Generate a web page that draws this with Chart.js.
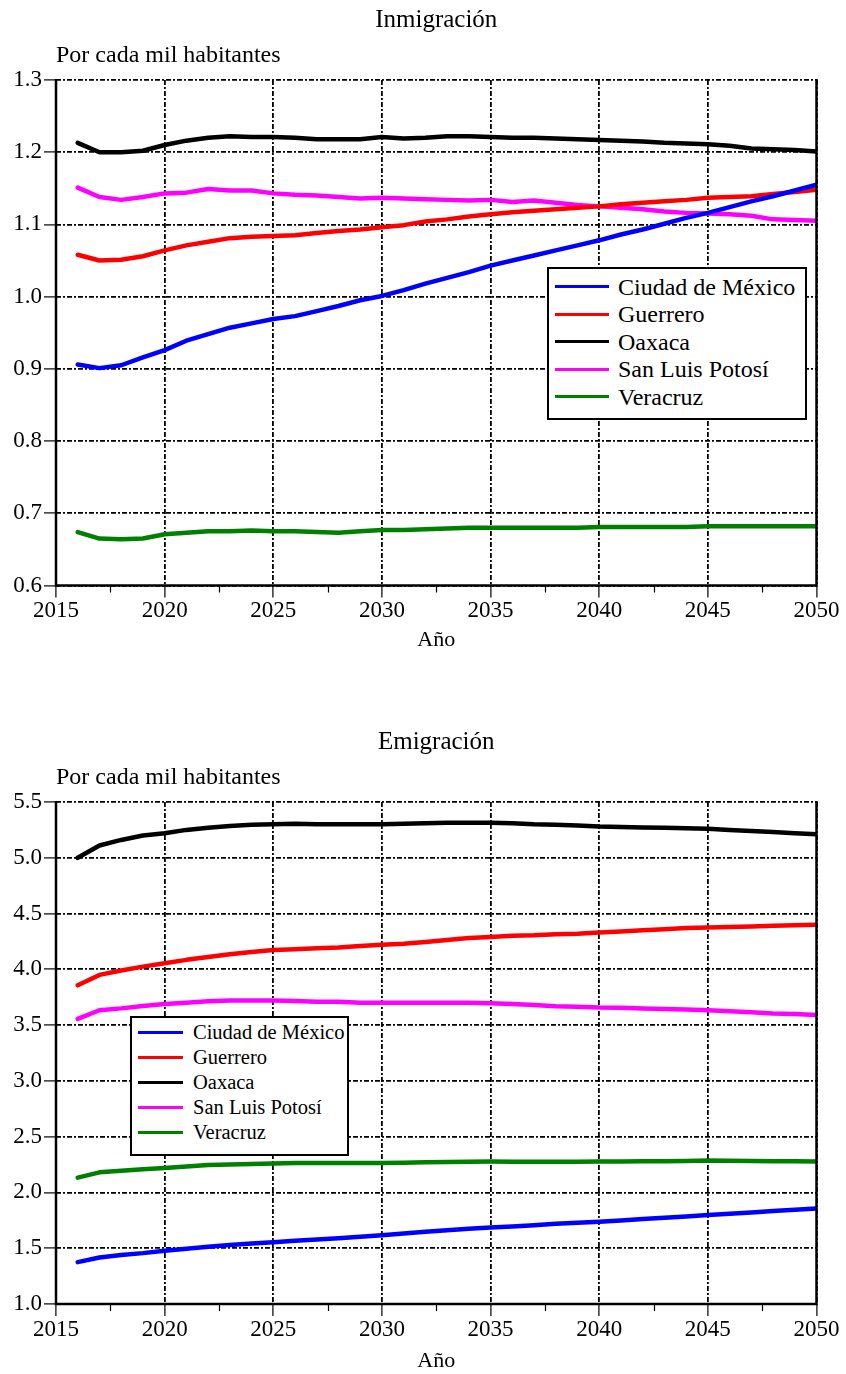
<!DOCTYPE html>
<html><head><meta charset="utf-8">
<script src="https://cdn.jsdelivr.net/npm/chart.js@4.4.1/dist/chart.umd.min.js"></script>
<style>
html,body{margin:0;padding:0;background:#fff;}
body{width:846px;height:1374px;position:relative;overflow:hidden;font-family:"Liberation Serif","Times New Roman",serif;color:#000;}
canvas{position:absolute;left:0;}
#c1{top:0;}
#c2{top:722px;}
.legend{position:absolute;background:#fff;border:2px solid #000;box-sizing:border-box;}
.legend .item{position:absolute;left:0;right:0;white-space:nowrap;}
.legend .sw{position:absolute;}
.legend .tx{position:absolute;}
</style>
</head><body>
<canvas id="c1" width="846" height="660"></canvas>
<canvas id="c2" width="846" height="652"></canvas>
<div id="lg1" class="legend"></div>
<div id="lg2" class="legend"></div>
<script>
const years = [2016,2017,2018,2019,2020,2021,2022,2023,2024,2025,2026,2027,2028,2029,2030,2031,2032,2033,2034,2035,2036,2037,2038,2039,2040,2041,2042,2043,2044,2045,2046,2047,2048,2049,2050];
const seriesNames = ['Ciudad de México','Guerrero','Oaxaca','San Luis Potosí','Veracruz'];
const seriesColors = ['#0000ff','#ff0000','#000000','#ff00ff','#008000'];

// Inmigración (por cada mil habitantes)
const cdmxIn = [0.906,0.901,0.905,0.916,0.926,0.939,0.948,0.957,0.963,0.969,0.973,0.980,0.987,0.995,1.001,1.009,1.018,1.026,1.034,1.043,1.050,1.057,1.064,1.071,1.078,1.086,1.093,1.101,1.109,1.116,1.124,1.132,1.139,1.147,1.155];
const guerreroIn = [1.058,1.050,1.051,1.056,1.064,1.071,1.076,1.081,1.083,1.084,1.085,1.088,1.091,1.093,1.096,1.099,1.104,1.107,1.111,1.114,1.117,1.119,1.121,1.123,1.125,1.128,1.130,1.132,1.134,1.137,1.138,1.139,1.142,1.145,1.148];
const oaxacaIn = [1.213,1.200,1.200,1.202,1.210,1.216,1.220,1.222,1.221,1.221,1.220,1.218,1.218,1.218,1.221,1.219,1.220,1.222,1.222,1.221,1.220,1.220,1.219,1.218,1.217,1.216,1.215,1.213,1.212,1.211,1.209,1.205,1.204,1.203,1.201];
const slpIn = [1.151,1.138,1.134,1.138,1.143,1.144,1.149,1.147,1.147,1.143,1.141,1.140,1.138,1.136,1.137,1.136,1.135,1.134,1.133,1.134,1.131,1.133,1.130,1.127,1.125,1.123,1.121,1.118,1.116,1.115,1.114,1.112,1.107,1.106,1.105];
const veracruzIn = [0.674,0.665,0.664,0.665,0.671,0.673,0.675,0.675,0.676,0.675,0.675,0.674,0.673,0.675,0.677,0.677,0.678,0.679,0.680,0.680,0.680,0.680,0.680,0.680,0.681,0.681,0.681,0.681,0.681,0.682,0.682,0.682,0.682,0.682,0.682];

// Emigración (por cada mil habitantes)
const cdmxEm = [1.375,1.417,1.440,1.456,1.477,1.495,1.513,1.528,1.542,1.554,1.566,1.578,1.590,1.602,1.617,1.632,1.647,1.662,1.674,1.686,1.695,1.707,1.719,1.728,1.737,1.749,1.761,1.773,1.785,1.797,1.809,1.821,1.833,1.845,1.856];
const guerreroEm = [3.857,3.950,3.990,4.024,4.055,4.085,4.110,4.135,4.156,4.174,4.180,4.190,4.195,4.210,4.220,4.230,4.245,4.263,4.280,4.290,4.300,4.305,4.315,4.320,4.330,4.340,4.350,4.360,4.370,4.375,4.380,4.385,4.390,4.395,4.400];
const oaxacaEm = [5.000,5.110,5.160,5.200,5.220,5.250,5.270,5.285,5.295,5.300,5.305,5.300,5.300,5.300,5.300,5.305,5.310,5.315,5.315,5.315,5.310,5.300,5.295,5.290,5.280,5.275,5.272,5.270,5.265,5.260,5.250,5.240,5.230,5.220,5.210];
const slpEm = [3.556,3.633,3.650,3.672,3.690,3.700,3.714,3.720,3.720,3.720,3.716,3.710,3.710,3.700,3.700,3.700,3.700,3.700,3.700,3.695,3.690,3.680,3.670,3.665,3.657,3.655,3.650,3.645,3.640,3.633,3.625,3.615,3.605,3.600,3.590];
const veracruzEm = [2.133,2.180,2.195,2.208,2.220,2.232,2.245,2.250,2.256,2.260,2.263,2.263,2.263,2.263,2.265,2.267,2.270,2.274,2.276,2.277,2.276,2.275,2.275,2.275,2.277,2.278,2.279,2.280,2.282,2.286,2.283,2.281,2.280,2.279,2.277];

const xTicks = [2015,2020,2025,2030,2035,2040,2045,2050];
const yTicksIn = [0.6,0.7,0.8,0.9,1.0,1.1,1.2,1.3];
const yTicksEm = [1.0,1.5,2.0,2.5,3.0,3.5,4.0,4.5,5.0,5.5];

const F = '"Liberation Serif","Times New Roman",serif';
const DASH = [5,2,2,2];

const framePlugin = {
  id: 'frame',
  afterDraw(chart) {
    const {ctx, chartArea: {left, right, top, bottom}, scales: {x}} = chart;
    ctx.save();
    ctx.setLineDash([]);
    ctx.strokeStyle = '#000';
    ctx.lineWidth = 2.5;
    ctx.beginPath();
    ctx.moveTo(left, top - 1);
    ctx.lineTo(left, bottom);
    ctx.lineTo(right, bottom);
    ctx.lineTo(right, top - 1);
    ctx.stroke();
    ctx.lineWidth = 1.2;
    ctx.beginPath();
    for (let v = x.min + 2.5; v < x.max; v += 5) {
      const px = Math.round(x.getPixelForValue(v)) + 0.5;
      ctx.moveTo(px, bottom);
      ctx.lineTo(px, bottom + 7);
    }
    ctx.stroke();
    ctx.restore();
  }
};

function makeChart(id, title, seriesList, yTicks, xAxisH, xTitlePadB) {
  const datasets = seriesList.map((vals, i) => ({
    label: seriesNames[i],
    data: vals.map((v, k) => ({x: years[k], y: v})),
    borderColor: seriesColors[i],
    backgroundColor: seriesColors[i],
    borderWidth: 4.5,
    pointRadius: 0,
    tension: 0,
    fill: false,
    borderJoinStyle: 'round',
    borderCapStyle: 'round'
  }));
  const gridCommon = {
    color: '#000', lineWidth: 1.8, borderDash: DASH,
    tickColor: '#000', tickWidth: 1.2, tickLength: 12, tickBorderDash: []
  };
  return new Chart(document.getElementById(id), {
    type: 'line',
    data: {datasets},
    options: {
      responsive: false, animation: false, devicePixelRatio: 1,
      layout: {padding: {top: 0, right: 29.5, bottom: 0, left: 0}},
      plugins: {
        legend: {display: false},
        tooltip: {enabled: false},
        title: {display: true, text: title, color: '#000', fullSize: false,
          font: {family: F, size: 25, weight: 'normal'}, padding: {top: 5, bottom: 0}},
        subtitle: {display: true, text: 'Por cada mil habitantes', align: 'start', color: '#000', fullSize: false,
          font: {family: F, size: 24, weight: 'normal'}, padding: {top: 6.2, bottom: 10}}
      },
      scales: {
        x: {
          type: 'linear', min: xTicks[0], max: xTicks[xTicks.length - 1],
          afterBuildTicks(s) { s.ticks = xTicks.map(v => ({value: v})); },
          ticks: {color: '#000', font: {family: F, size: 23}, padding: 0, maxRotation: 0, autoSkip: false,
            callback: v => String(v)},
          grid: gridCommon,
          border: {display: false, dash: DASH},
          title: {display: true, text: 'Año', color: '#000', font: {family: F, size: 22}, padding: {top: 0, bottom: xTitlePadB}},
          afterFit(s) { s.height = xAxisH; }
        },
        y: {
          type: 'linear', min: yTicks[0], max: yTicks[yTicks.length - 1],
          afterBuildTicks(s) { s.ticks = yTicks.map(v => ({value: v})); },
          ticks: {color: '#000', font: {family: F, size: 23}, padding: 2, autoSkip: false,
            callback: v => Number(v).toFixed(1)},
          grid: gridCommon,
          border: {display: false, dash: DASH},
          afterFit(s) { s.width = 56; }
        }
      }
    },
    plugins: [framePlugin]
  });
}

function buildLegend(elId, chart, box) {
  const el = document.getElementById(elId);
  el.style.left = box.left + 'px';
  el.style.top = box.top + 'px';
  el.style.width = box.width + 'px';
  el.style.height = box.height + 'px';
  chart.data.datasets.forEach((ds, i) => {
    const item = document.createElement('div');
    item.className = 'item';
    const cy = box.first + i * box.step - 2;
    item.style.top = (cy - box.lh / 2) + 'px';
    item.style.height = box.lh + 'px';
    const sw = document.createElement('div');
    sw.className = 'sw';
    sw.style.left = box.swLeft + 'px';
    sw.style.width = box.swWidth + 'px';
    sw.style.height = '3px';
    sw.style.top = (box.lh / 2 - 1.5) + 'px';
    sw.style.background = ds.borderColor;
    const tx = document.createElement('div');
    tx.className = 'tx';
    tx.style.left = box.txLeft + 'px';
    tx.style.top = '0px';
    tx.style.lineHeight = box.lh + 'px';
    tx.style.fontSize = box.fs + 'px';
    tx.textContent = ds.label;
    item.appendChild(sw);
    item.appendChild(tx);
    el.appendChild(item);
  });
}

function drawAll() {
  const ch1 = makeChart('c1', 'Inmigración', [cdmxIn, guerreroIn, oaxacaIn, slpIn, veracruzIn], yTicksIn, 74.5, 7);
  const ch2 = makeChart('c2', 'Emigración', [cdmxEm, guerreroEm, oaxacaEm, slpEm, veracruzEm], yTicksEm, 70, 0);
  buildLegend('lg1', ch1, {left: 547, top: 267, width: 260, height: 153, first: 19.7, step: 27.5, lh: 28, fs: 24, swLeft: 6, swWidth: 54, txLeft: 69});
  buildLegend('lg2', ch2, {left: 130, top: 1016, width: 219, height: 140, first: 16, step: 25, lh: 24, fs: 20.5, swLeft: 6, swWidth: 45, txLeft: 61});
}

if (document.fonts && document.fonts.load) {
  Promise.all([
    document.fonts.load('24px "Liberation Serif"'),
    document.fonts.load('23px "Liberation Serif"')
  ]).then(drawAll, drawAll);
} else {
  drawAll();
}
</script>
</body></html>
